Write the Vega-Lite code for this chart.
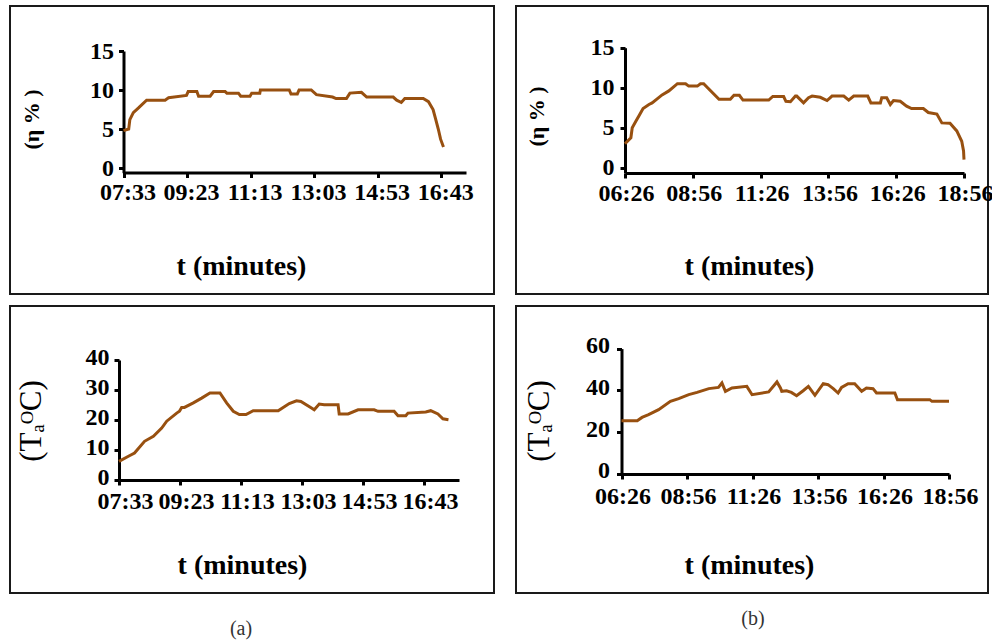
{
  "$schema": "https://vega.github.io/schema/vega-lite/v6.json",
  "padding": {"left": 9, "top": 5, "right": 5, "bottom": 5},
  "background": "white",
  "config": {
    "view": {"stroke": "#1a1a1a", "strokeWidth": 2},
    "axis": {
      "grid": false, "domainColor": "black", "domainWidth": 3, "tickColor": "black", "tickWidth": 3, "tickSize": 5,
      "labelFont": "Liberation Serif", "labelFontWeight": "bold", "labelFontSize": 24, "labelColor": "black",
      "labelOverlap": false, "labelFlush": false,
      "titleFont": "Liberation Serif", "titleColor": "black", "titleBaseline": "middle", "titleAlign": "center"
    },
    "title": {"font": "Liberation Serif", "fontWeight": "normal", "fontSize": 20, "color": "#333"}
  },
  "datasets": {
    "a_eta": [
      {"t": "2000-01-01T07:33", "v": 4.8}, {"t": "2000-01-01T07:42", "v": 5.0}, {"t": "2000-01-01T07:44", "v": 6.2},
      {"t": "2000-01-01T07:50", "v": 7.1}, {"t": "2000-01-01T07:59", "v": 7.7}, {"t": "2000-01-01T08:13", "v": 8.7},
      {"t": "2000-01-01T08:45", "v": 8.7}, {"t": "2000-01-01T08:51", "v": 9.0}, {"t": "2000-01-01T09:22", "v": 9.3},
      {"t": "2000-01-01T09:25", "v": 9.8}, {"t": "2000-01-01T09:40", "v": 9.8}, {"t": "2000-01-01T09:43", "v": 9.2},
      {"t": "2000-01-01T10:03", "v": 9.2}, {"t": "2000-01-01T10:09", "v": 9.8}, {"t": "2000-01-01T10:29", "v": 9.8},
      {"t": "2000-01-01T10:32", "v": 9.6}, {"t": "2000-01-01T10:52", "v": 9.6}, {"t": "2000-01-01T10:56", "v": 9.2},
      {"t": "2000-01-01T11:12", "v": 9.2}, {"t": "2000-01-01T11:15", "v": 9.6}, {"t": "2000-01-01T11:29", "v": 9.6},
      {"t": "2000-01-01T11:30", "v": 10.0}, {"t": "2000-01-01T12:20", "v": 10.0}, {"t": "2000-01-01T12:23", "v": 9.5},
      {"t": "2000-01-01T12:34", "v": 9.5}, {"t": "2000-01-01T12:37", "v": 10.0}, {"t": "2000-01-01T12:58", "v": 10.0},
      {"t": "2000-01-01T13:07", "v": 9.4}, {"t": "2000-01-01T13:35", "v": 9.1}, {"t": "2000-01-01T13:41", "v": 8.9},
      {"t": "2000-01-01T13:59", "v": 8.9}, {"t": "2000-01-01T14:05", "v": 9.6}, {"t": "2000-01-01T14:25", "v": 9.7},
      {"t": "2000-01-01T14:34", "v": 9.1}, {"t": "2000-01-01T15:20", "v": 9.1}, {"t": "2000-01-01T15:26", "v": 8.7},
      {"t": "2000-01-01T15:34", "v": 8.4}, {"t": "2000-01-01T15:40", "v": 8.9}, {"t": "2000-01-01T16:12", "v": 8.9},
      {"t": "2000-01-01T16:21", "v": 8.5}, {"t": "2000-01-01T16:29", "v": 7.5}, {"t": "2000-01-01T16:33", "v": 6.4},
      {"t": "2000-01-01T16:38", "v": 5.0}, {"t": "2000-01-01T16:42", "v": 3.7}, {"t": "2000-01-01T16:47", "v": 2.7}
    ],
    "b_eta": [
      {"t": "2000-01-01T06:26", "v": 3.0}, {"t": "2000-01-01T06:39", "v": 3.75}, {"t": "2000-01-01T06:42", "v": 5.0},
      {"t": "2000-01-01T06:50", "v": 5.8}, {"t": "2000-01-01T06:57", "v": 6.5}, {"t": "2000-01-01T07:06", "v": 7.4},
      {"t": "2000-01-01T07:19", "v": 7.9}, {"t": "2000-01-01T07:26", "v": 8.1}, {"t": "2000-01-01T07:48", "v": 9.1},
      {"t": "2000-01-01T08:03", "v": 9.6}, {"t": "2000-01-01T08:22", "v": 10.5}, {"t": "2000-01-01T08:40", "v": 10.5},
      {"t": "2000-01-01T08:47", "v": 10.2}, {"t": "2000-01-01T09:06", "v": 10.2}, {"t": "2000-01-01T09:13", "v": 10.5},
      {"t": "2000-01-01T09:20", "v": 10.5}, {"t": "2000-01-01T09:54", "v": 8.55}, {"t": "2000-01-01T10:19", "v": 8.55},
      {"t": "2000-01-01T10:27", "v": 9.05}, {"t": "2000-01-01T10:39", "v": 9.05}, {"t": "2000-01-01T10:47", "v": 8.45},
      {"t": "2000-01-01T11:44", "v": 8.45}, {"t": "2000-01-01T11:53", "v": 8.9}, {"t": "2000-01-01T12:17", "v": 8.9},
      {"t": "2000-01-01T12:22", "v": 8.3}, {"t": "2000-01-01T12:32", "v": 8.25}, {"t": "2000-01-01T12:43", "v": 8.95},
      {"t": "2000-01-01T12:46", "v": 8.95}, {"t": "2000-01-01T13:01", "v": 8.1}, {"t": "2000-01-01T13:12", "v": 8.75},
      {"t": "2000-01-01T13:20", "v": 8.95}, {"t": "2000-01-01T13:38", "v": 8.8}, {"t": "2000-01-01T13:53", "v": 8.4},
      {"t": "2000-01-01T14:04", "v": 8.95}, {"t": "2000-01-01T14:30", "v": 8.95}, {"t": "2000-01-01T14:41", "v": 8.45},
      {"t": "2000-01-01T14:52", "v": 8.95}, {"t": "2000-01-01T15:23", "v": 8.95}, {"t": "2000-01-01T15:30", "v": 8.1},
      {"t": "2000-01-01T15:51", "v": 8.1}, {"t": "2000-01-01T15:54", "v": 8.75}, {"t": "2000-01-01T16:05", "v": 8.75},
      {"t": "2000-01-01T16:13", "v": 7.9}, {"t": "2000-01-01T16:20", "v": 8.4}, {"t": "2000-01-01T16:35", "v": 8.3},
      {"t": "2000-01-01T16:49", "v": 7.7}, {"t": "2000-01-01T17:00", "v": 7.4}, {"t": "2000-01-01T17:26", "v": 7.4},
      {"t": "2000-01-01T17:37", "v": 6.9}, {"t": "2000-01-01T17:56", "v": 6.7}, {"t": "2000-01-01T18:07", "v": 5.6},
      {"t": "2000-01-01T18:25", "v": 5.55}, {"t": "2000-01-01T18:40", "v": 4.6}, {"t": "2000-01-01T18:51", "v": 3.3},
      {"t": "2000-01-01T18:55", "v": 2.1}, {"t": "2000-01-01T18:56", "v": 1.0}
    ],
    "a_ta": [
      {"t": "2000-01-01T07:33", "v": 6.2}, {"t": "2000-01-01T07:50", "v": 7.9}, {"t": "2000-01-01T08:01", "v": 9.0},
      {"t": "2000-01-01T08:19", "v": 12.9}, {"t": "2000-01-01T08:35", "v": 14.6}, {"t": "2000-01-01T08:50", "v": 17.3},
      {"t": "2000-01-01T08:59", "v": 19.6}, {"t": "2000-01-01T09:17", "v": 22.3}, {"t": "2000-01-01T09:22", "v": 22.9},
      {"t": "2000-01-01T09:26", "v": 24.2}, {"t": "2000-01-01T09:31", "v": 24.2}, {"t": "2000-01-01T09:47", "v": 25.7},
      {"t": "2000-01-01T10:02", "v": 27.3}, {"t": "2000-01-01T10:17", "v": 29.0}, {"t": "2000-01-01T10:35", "v": 29.0},
      {"t": "2000-01-01T10:47", "v": 25.7}, {"t": "2000-01-01T10:59", "v": 22.9}, {"t": "2000-01-01T11:10", "v": 21.8},
      {"t": "2000-01-01T11:22", "v": 21.8}, {"t": "2000-01-01T11:35", "v": 23.1}, {"t": "2000-01-01T12:20", "v": 23.1},
      {"t": "2000-01-01T12:29", "v": 24.2}, {"t": "2000-01-01T12:40", "v": 25.5}, {"t": "2000-01-01T12:53", "v": 26.4},
      {"t": "2000-01-01T13:01", "v": 26.2}, {"t": "2000-01-01T13:20", "v": 24.0}, {"t": "2000-01-01T13:25", "v": 23.4},
      {"t": "2000-01-01T13:34", "v": 25.3}, {"t": "2000-01-01T13:43", "v": 25.1}, {"t": "2000-01-01T14:08", "v": 25.1},
      {"t": "2000-01-01T14:10", "v": 22.0}, {"t": "2000-01-01T14:26", "v": 22.0}, {"t": "2000-01-01T14:44", "v": 23.4},
      {"t": "2000-01-01T15:13", "v": 23.4}, {"t": "2000-01-01T15:20", "v": 22.9}, {"t": "2000-01-01T15:49", "v": 22.9},
      {"t": "2000-01-01T15:56", "v": 21.4}, {"t": "2000-01-01T16:10", "v": 21.4}, {"t": "2000-01-01T16:14", "v": 22.3},
      {"t": "2000-01-01T16:46", "v": 22.7}, {"t": "2000-01-01T16:55", "v": 23.1}, {"t": "2000-01-01T17:08", "v": 22.0},
      {"t": "2000-01-01T17:17", "v": 20.4}, {"t": "2000-01-01T17:27", "v": 20.1}
    ],
    "b_ta": [
      {"t": "2000-01-01T06:26", "v": 25.4}, {"t": "2000-01-01T07:02", "v": 25.4}, {"t": "2000-01-01T07:13", "v": 27.0},
      {"t": "2000-01-01T07:28", "v": 28.3}, {"t": "2000-01-01T07:51", "v": 30.7}, {"t": "2000-01-01T08:18", "v": 34.7},
      {"t": "2000-01-01T08:37", "v": 36.0}, {"t": "2000-01-01T09:00", "v": 37.9}, {"t": "2000-01-01T09:19", "v": 39.0},
      {"t": "2000-01-01T09:46", "v": 40.8}, {"t": "2000-01-01T10:08", "v": 41.4}, {"t": "2000-01-01T10:16", "v": 43.5},
      {"t": "2000-01-01T10:24", "v": 39.5}, {"t": "2000-01-01T10:39", "v": 41.1}, {"t": "2000-01-01T11:13", "v": 41.9},
      {"t": "2000-01-01T11:25", "v": 37.9}, {"t": "2000-01-01T12:03", "v": 39.2}, {"t": "2000-01-01T12:22", "v": 44.0},
      {"t": "2000-01-01T12:30", "v": 41.1}, {"t": "2000-01-01T12:33", "v": 39.5}, {"t": "2000-01-01T12:44", "v": 39.8},
      {"t": "2000-01-01T12:55", "v": 39.0}, {"t": "2000-01-01T13:07", "v": 37.4}, {"t": "2000-01-01T13:22", "v": 39.8},
      {"t": "2000-01-01T13:34", "v": 41.9}, {"t": "2000-01-01T13:49", "v": 37.6}, {"t": "2000-01-01T14:08", "v": 43.2},
      {"t": "2000-01-01T14:19", "v": 42.7}, {"t": "2000-01-01T14:31", "v": 40.8}, {"t": "2000-01-01T14:42", "v": 38.7},
      {"t": "2000-01-01T14:50", "v": 41.4}, {"t": "2000-01-01T15:05", "v": 43.2}, {"t": "2000-01-01T15:20", "v": 43.2},
      {"t": "2000-01-01T15:36", "v": 39.5}, {"t": "2000-01-01T15:47", "v": 41.1}, {"t": "2000-01-01T16:02", "v": 40.8},
      {"t": "2000-01-01T16:10", "v": 38.7}, {"t": "2000-01-01T16:52", "v": 38.7}, {"t": "2000-01-01T16:58", "v": 35.5},
      {"t": "2000-01-01T18:12", "v": 35.5}, {"t": "2000-01-01T18:17", "v": 34.7}, {"t": "2000-01-01T18:56", "v": 34.7}
    ]
  },
  "spacing": 10,
  "vconcat": [
    {
      "spacing": 20,
      "hconcat": [
        {
          "width": 484, "height": 288,
          "data": {"name": "a_eta"},
          "mark": {"type": "line", "color": "#985010", "strokeWidth": 3},
          "encoding": {
            "x": {"field": "t", "type": "temporal",
              "scale": {"domain": [{"year": 2000, "month": 1, "date": 1, "hours": 7, "minutes": 33}, {"year": 2000, "month": 1, "date": 1, "hours": 17, "minutes": 26}], "range": [113.5, 456], "nice": false},
              "axis": {"values": [
                  {"year": 2000, "month": 1, "date": 1, "hours": 7, "minutes": 33}, {"year": 2000, "month": 1, "date": 1, "hours": 9, "minutes": 23},
                  {"year": 2000, "month": 1, "date": 1, "hours": 11, "minutes": 13}, {"year": 2000, "month": 1, "date": 1, "hours": 13, "minutes": 3},
                  {"year": 2000, "month": 1, "date": 1, "hours": 14, "minutes": 53}, {"year": 2000, "month": 1, "date": 1, "hours": 16, "minutes": 43}],
                "format": "%H:%M", "offset": -121.5, "labelPadding": 3, "labelOffset": 4,
                "title": "t (minutes)", "titleX": 231, "titleY": 93.5, "titleFontSize": 28, "titleFontWeight": "bold"}},
            "y": {"field": "v", "type": "quantitative",
              "scale": {"domain": [-0.6, 15], "range": [166.7, 45], "nice": false, "zero": false},
              "axis": {"values": [0, 5, 10, 15], "offset": -113.5, "labelPadding": 5,
                "title": "(η % )", "titleX": -92.5, "titleY": 113, "titleFontSize": 22, "titleFontWeight": "bold", "titleAngle": -90}}
          }
        },
        {
          "width": 472, "height": 288,
          "data": {"name": "b_eta"},
          "mark": {"type": "line", "color": "#985010", "strokeWidth": 3},
          "encoding": {
            "x": {"field": "t", "type": "temporal",
              "scale": {"domain": [{"year": 2000, "month": 1, "date": 1, "hours": 6, "minutes": 26}, {"year": 2000, "month": 1, "date": 1, "hours": 18, "minutes": 56}], "range": [109, 448], "nice": false},
              "axis": {"values": [
                  {"year": 2000, "month": 1, "date": 1, "hours": 6, "minutes": 26}, {"year": 2000, "month": 1, "date": 1, "hours": 8, "minutes": 56},
                  {"year": 2000, "month": 1, "date": 1, "hours": 11, "minutes": 26}, {"year": 2000, "month": 1, "date": 1, "hours": 13, "minutes": 56},
                  {"year": 2000, "month": 1, "date": 1, "hours": 16, "minutes": 26}, {"year": 2000, "month": 1, "date": 1, "hours": 18, "minutes": 56}],
                "format": "%H:%M", "offset": -121, "labelPadding": 3, "labelOffset": 1,
                "title": "t (minutes)", "titleX": 233, "titleY": 93, "titleFontSize": 28, "titleFontWeight": "bold"}},
            "y": {"field": "v", "type": "quantitative",
              "scale": {"domain": [-0.65, 15], "range": [166.9, 41.7], "nice": false, "zero": false},
              "axis": {"values": [0, 5, 10, 15], "offset": -109, "labelPadding": 6,
                "title": "(η % )", "titleX": -89, "titleY": 110, "titleFontSize": 22, "titleFontWeight": "bold", "titleAngle": -90}}
          }
        }
      ]
    },
    {
      "spacing": 20,
      "hconcat": [
        {
          "width": 484, "height": 287,
          "title": {"text": "(a)", "orient": "bottom", "offset": 26, "dx": -11, "anchor": "middle"},
          "data": {"name": "a_ta"},
          "mark": {"type": "line", "color": "#985010", "strokeWidth": 3},
          "encoding": {
            "x": {"field": "t", "type": "temporal",
              "scale": {"domain": [{"year": 2000, "month": 1, "date": 1, "hours": 7, "minutes": 33}, {"year": 2000, "month": 1, "date": 1, "hours": 17, "minutes": 46}], "range": [109, 449], "nice": false},
              "axis": {"values": [
                  {"year": 2000, "month": 1, "date": 1, "hours": 7, "minutes": 33}, {"year": 2000, "month": 1, "date": 1, "hours": 9, "minutes": 23},
                  {"year": 2000, "month": 1, "date": 1, "hours": 11, "minutes": 13}, {"year": 2000, "month": 1, "date": 1, "hours": 13, "minutes": 3},
                  {"year": 2000, "month": 1, "date": 1, "hours": 14, "minutes": 53}, {"year": 2000, "month": 1, "date": 1, "hours": 16, "minutes": 43}],
                "format": "%H:%M", "offset": -113, "labelPadding": 4, "labelOffset": 6,
                "title": "t (minutes)", "titleX": 232, "titleY": 85, "titleFontSize": 28, "titleFontWeight": "bold"}},
            "y": {"field": "v", "type": "quantitative",
              "scale": {"domain": [0, 40], "range": [174, 54], "nice": false, "zero": false},
              "axis": {"values": [0, 10, 20, 30, 40], "offset": -109, "labelPadding": 5, "labelOffset": -3,
                "title": "(TₐᴼC)", "titleX": -88, "titleY": 114.5, "titleFontSize": 31, "titleFontWeight": "normal", "titleAngle": -90}}
          }
        },
        {
          "width": 472, "height": 287,
          "title": {"text": "(b)", "orient": "bottom", "offset": 16, "dx": 1, "anchor": "middle"},
          "data": {"name": "b_ta"},
          "mark": {"type": "line", "color": "#985010", "strokeWidth": 3},
          "encoding": {
            "x": {"field": "t", "type": "temporal",
              "scale": {"domain": [{"year": 2000, "month": 1, "date": 1, "hours": 6, "minutes": 26}, {"year": 2000, "month": 1, "date": 1, "hours": 18, "minutes": 56}], "range": [105.5, 433], "nice": false},
              "axis": {"values": [
                  {"year": 2000, "month": 1, "date": 1, "hours": 6, "minutes": 26}, {"year": 2000, "month": 1, "date": 1, "hours": 8, "minutes": 56},
                  {"year": 2000, "month": 1, "date": 1, "hours": 11, "minutes": 26}, {"year": 2000, "month": 1, "date": 1, "hours": 13, "minutes": 56},
                  {"year": 2000, "month": 1, "date": 1, "hours": 16, "minutes": 26}, {"year": 2000, "month": 1, "date": 1, "hours": 18, "minutes": 56}],
                "format": "%H:%M", "offset": -119, "labelPadding": 5, "labelOffset": 1,
                "title": "t (minutes)", "titleX": 233, "titleY": 91, "titleFontSize": 28, "titleFontWeight": "bold"}},
            "y": {"field": "v", "type": "quantitative",
              "scale": {"domain": [0, 60], "range": [167.7, 42.6], "nice": false, "zero": false},
              "axis": {"values": [0, 20, 40, 60], "offset": -105.5, "labelPadding": 7, "labelOffset": -3,
                "title": "(TₐᴼC)", "titleX": -82.5, "titleY": 114.5, "titleFontSize": 31, "titleFontWeight": "normal", "titleAngle": -90}}
          }
        }
      ]
    }
  ]
}
